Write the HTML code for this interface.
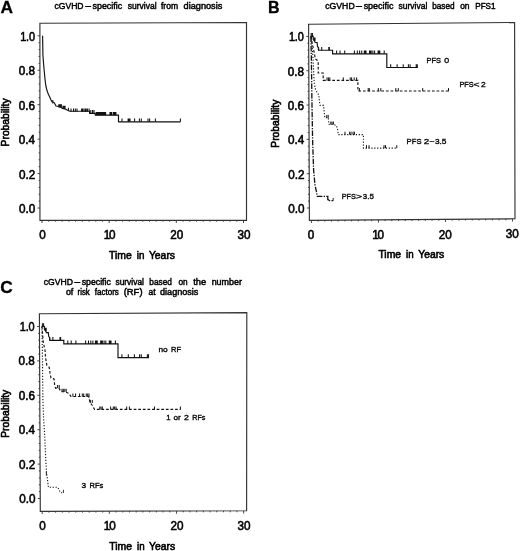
<!DOCTYPE html>
<html><head><meta charset="utf-8"><title>cGVHD-specific survival</title>
<style>
html,body{margin:0;padding:0;background:#fff;}
body{width:520px;height:551px;overflow:hidden;}
svg{display:block;will-change:transform;filter:grayscale(1);font-family:"Liberation Sans",sans-serif;}
.tk{font-size:13.3px;fill:#000;stroke:#000;stroke-width:0.62px;}
.ax{font-size:10.6px;fill:#000;stroke:#000;stroke-width:0.6px;}
.tt{font-size:9.2px;fill:#000;stroke:#000;stroke-width:0.48px;}
.lb{font-size:7.9px;fill:#0a0a0a;stroke:#0a0a0a;stroke-width:0.36px;}
.let{font-size:15px;font-weight:bold;fill:#000;stroke:#000;stroke-width:0.3px;}
</style></head>
<body>
<svg width="520" height="551" viewBox="0 0 520 551">
<rect width="520" height="551" fill="#fff"/>
<g id="A">
<path d="M39.9 23.2L246.5 22.5L246.5 220.3L39.95 220.3Z" fill="none" stroke="#333" stroke-width="1.15" stroke-linejoin="miter"/>
<path d="M37.55 208.00H39.95M38.65 201.11H39.95M38.64 194.22H39.94M38.64 187.34H39.94M38.64 180.45H39.94M37.54 173.56H39.94M38.64 166.67H39.94M38.63 159.78H39.93M38.63 152.90H39.93M38.63 146.01H39.93M37.53 139.12H39.93M38.63 132.23H39.93M38.63 125.34H39.93M38.62 118.46H39.92M38.62 111.57H39.92M37.52 104.68H39.92M38.62 97.79H39.92M38.62 90.90H39.92M38.62 84.02H39.92M38.61 77.13H39.91M37.51 70.24H39.91M38.61 63.35H39.91M38.61 56.46H39.91M38.61 49.58H39.91M38.60 42.69H39.90M37.50 35.80H39.90M42.00 220.30V223.00M48.72 220.30V221.70M55.43 220.30V221.70M62.15 220.30V221.70M68.87 220.30V221.70M75.59 220.30V221.70M82.30 220.30V221.70M89.02 220.30V221.70M95.74 220.30V221.70M102.45 220.30V221.70M109.17 220.30V223.00M115.89 220.30V221.70M122.60 220.30V221.70M129.32 220.30V221.70M136.04 220.30V221.70M142.75 220.30V221.70M149.47 220.30V221.70M156.19 220.30V221.70M162.91 220.30V221.70M169.62 220.30V221.70M176.34 220.30V223.00M183.06 220.30V221.70M189.77 220.30V221.70M196.49 220.30V221.70M203.21 220.30V221.70M209.92 220.30V221.70M216.64 220.30V221.70M223.36 220.30V221.70M230.08 220.30V221.70M236.79 220.30V221.70M243.51 220.30V223.00" stroke="#333" stroke-width="0.9" fill="none"/>
<text transform="translate(35.15 213.00) scale(0.88 1)" text-anchor="end" class="tk">0.0</text>
<text transform="translate(35.14 178.56) scale(0.88 1)" text-anchor="end" class="tk">0.2</text>
<text transform="translate(35.13 144.12) scale(0.88 1)" text-anchor="end" class="tk">0.4</text>
<text transform="translate(35.12 109.68) scale(0.88 1)" text-anchor="end" class="tk">0.6</text>
<text transform="translate(35.11 75.24) scale(0.88 1)" text-anchor="end" class="tk">0.8</text>
<text transform="translate(35.10 40.80) scale(0.82 1)" text-anchor="end" class="tk">1<tspan dx="-0.35">.</tspan><tspan dx="-0.1">0</tspan></text>
<text transform="translate(42.40 239.20) scale(0.88 1)" text-anchor="middle" class="tk">0</text>
<text transform="translate(109.57 239.20) scale(0.88 1)" text-anchor="middle" class="tk">1<tspan dx="-1.4">0</tspan></text>
<text transform="translate(176.74 239.20) scale(0.88 1)" text-anchor="middle" class="tk">20</text>
<text transform="translate(243.91 239.20) scale(0.88 1)" text-anchor="middle" class="tk">30</text>
<text x="109.12" y="259.00" class="ax" textLength="22.70" lengthAdjust="spacingAndGlyphs">Time</text>
<text x="136.82" y="259.00" class="ax" textLength="7.60" lengthAdjust="spacingAndGlyphs">in</text>
<text x="148.92" y="259.00" class="ax" textLength="26.10" lengthAdjust="spacingAndGlyphs">Years</text>
<text transform="translate(9.05 146.40) rotate(-90)" class="ax" textLength="48" lengthAdjust="spacingAndGlyphs">Probability</text>
<text x="0.5" y="12.6" class="let" style="font-size:17.3px">A</text>
<text x="54.45" y="8.60" class="tt" textLength="29.10" lengthAdjust="spacingAndGlyphs">cGVHD</text>
<text x="85.45" y="8.60" class="tt" textLength="5.40" lengthAdjust="spacingAndGlyphs">&#8211;</text>
<text x="92.55" y="8.60" class="tt" textLength="29.60" lengthAdjust="spacingAndGlyphs">specific</text>
<text x="127.65" y="8.60" class="tt" textLength="28.90" lengthAdjust="spacingAndGlyphs">survival</text>
<text x="160.95" y="8.60" class="tt" textLength="17.10" lengthAdjust="spacingAndGlyphs">from</text>
<text x="183.55" y="8.60" class="tt" textLength="38.80" lengthAdjust="spacingAndGlyphs">diagnosis</text>
<path d="M42.6 35.7 L42.9 54.5 L43.5 63 L44.2 70.8 L45 79 L45.8 85.5 L46.6 89 L47.5 92 L48.6 94.8 L49.75 97 L50.8 99.5 L51.9 101.8 L54.3 102.7 L56 106 L60 106.8 L62.5 108.4 L65.75 109.2 L67.5 110.2 L69.8 111.2 H89.6 V113.4 H95.2 V115.1 H118.5 V121.8 H180.4" fill="none" stroke="#111" stroke-width="1.15" stroke-linejoin="round"/>
<path d="M52.80 103.40v-3.3M58.80 107.60v-3.3M59.60 107.60v-3.3M60.60 107.60v-3.3M61.40 107.60v-3.3M63.00 109.00v-3.3M64.00 109.00v-3.3M65.00 109.00v-3.3M68.40 111.00v-3.3M71.00 111.80v-3.3M73.50 111.80v-3.3M75.30 111.80v-3.3M77.00 111.80v-3.3M81.60 111.80v-3.3M82.50 111.80v-3.3M83.90 111.80v-3.3M85.30 111.80v-3.3M86.10 111.80v-3.3M87.40 111.80v-3.3M89.10 111.80v-3.3M90.80 113.40v-3.3M92.60 113.40v-3.3M94.00 113.40v-3.3M96.20 115.20v-3.3M96.90 115.20v-3.3M97.60 115.20v-3.3M98.30 115.20v-3.3M99.00 115.20v-3.3M99.70 115.20v-3.3M100.40 115.20v-3.3M101.10 115.20v-3.3M101.80 115.20v-3.3M102.50 115.20v-3.3M103.20 115.20v-3.3M104.00 115.20v-3.3M104.80 115.20v-3.3M105.60 115.20v-3.3M110.00 115.20v-3.3M110.80 115.20v-3.3M111.60 115.20v-3.3M113.30 115.20v-3.3M114.20 115.20v-3.3M115.00 115.20v-3.3M115.90 115.20v-3.3M122.00 121.80v-3.3M128.10 121.80v-3.3M128.90 121.80v-3.3M130.00 121.80v-3.3M134.60 121.80v-3.3M139.40 121.80v-3.3M141.30 121.80v-3.3M148.00 121.80v-3.3M149.60 121.80v-3.3M155.40 121.80v-3.3M180.40 121.80v-3.3" fill="none" stroke="#111" stroke-width="1.05"/>
</g>
<g id="B">
<path d="M308.6 24.2L514.6 22.5L515.0 218.8L309.4 220.3Z" fill="none" stroke="#333" stroke-width="1.15" stroke-linejoin="miter"/>
<path d="M306.95 208.00H309.35M308.02 201.14H309.32M307.99 194.27H309.29M307.97 187.41H309.27M307.94 180.54H309.24M306.81 173.68H309.21M307.88 166.82H309.18M307.85 159.95H309.15M307.83 153.09H309.13M307.80 146.22H309.10M306.67 139.36H309.07M307.74 132.50H309.04M307.71 125.63H309.01M307.69 118.77H308.99M307.66 111.90H308.96M306.53 105.04H308.93M307.60 98.18H308.90M307.57 91.31H308.87M307.55 84.45H308.85M307.52 77.58H308.82M306.39 70.72H308.79M307.46 63.86H308.76M307.43 56.99H308.73M307.41 50.13H308.71M307.38 43.26H308.68M306.25 36.40H308.65M311.40 220.29V222.99M318.10 220.24V221.64M324.81 220.19V221.59M331.51 220.14V221.54M338.21 220.09V221.49M344.91 220.04V221.44M351.62 219.99V221.39M358.32 219.94V221.34M365.02 219.89V221.29M371.73 219.85V221.25M378.43 219.80V222.50M385.13 219.75V221.15M391.84 219.70V221.10M398.54 219.65V221.05M405.24 219.60V221.00M411.94 219.55V220.95M418.65 219.50V220.90M425.35 219.45V220.85M432.05 219.41V220.81M438.76 219.36V220.76M445.46 219.31V222.01M452.16 219.26V220.66M458.87 219.21V220.61M465.57 219.16V220.56M472.27 219.11V220.51M478.98 219.06V220.46M485.68 219.01V220.41M492.38 218.97V220.37M499.08 218.92V220.32M505.79 218.87V220.27M512.49 218.82V221.52" stroke="#333" stroke-width="0.9" fill="none"/>
<text transform="translate(304.55 213.00) scale(0.88 1)" text-anchor="end" class="tk">0.0</text>
<text transform="translate(304.41 178.68) scale(0.88 1)" text-anchor="end" class="tk">0.2</text>
<text transform="translate(304.27 144.36) scale(0.88 1)" text-anchor="end" class="tk">0.4</text>
<text transform="translate(304.13 110.04) scale(0.88 1)" text-anchor="end" class="tk">0.6</text>
<text transform="translate(303.99 75.72) scale(0.88 1)" text-anchor="end" class="tk">0.8</text>
<text transform="translate(303.85 41.40) scale(0.82 1)" text-anchor="end" class="tk">1<tspan dx="-0.35">.</tspan><tspan dx="-0.1">0</tspan></text>
<text transform="translate(311.10 239.19) scale(0.88 1)" text-anchor="middle" class="tk">0</text>
<text transform="translate(378.13 238.95) scale(0.88 1)" text-anchor="middle" class="tk">1<tspan dx="-1.4">0</tspan></text>
<text transform="translate(445.16 238.70) scale(0.88 1)" text-anchor="middle" class="tk">20</text>
<text transform="translate(512.19 238.46) scale(0.88 1)" text-anchor="middle" class="tk">30</text>
<text x="378.38" y="258.40" class="ax" textLength="22.70" lengthAdjust="spacingAndGlyphs">Time</text>
<text x="406.08" y="258.40" class="ax" textLength="7.60" lengthAdjust="spacingAndGlyphs">in</text>
<text x="418.18" y="258.40" class="ax" textLength="26.10" lengthAdjust="spacingAndGlyphs">Years</text>
<text transform="translate(278.50 147.70) rotate(-90)" class="ax" textLength="48" lengthAdjust="spacingAndGlyphs">Probability</text>
<text x="267.9" y="13.1" class="let" style="font-size:16px">B</text>
<text x="325.25" y="8.70" class="tt" textLength="29.40" lengthAdjust="spacingAndGlyphs">cGVHD</text>
<text x="356.05" y="8.70" class="tt" textLength="5.90" lengthAdjust="spacingAndGlyphs">&#8211;</text>
<text x="363.65" y="8.70" class="tt" textLength="29.80" lengthAdjust="spacingAndGlyphs">specific</text>
<text x="398.55" y="8.70" class="tt" textLength="28.80" lengthAdjust="spacingAndGlyphs">survival</text>
<text x="432.15" y="8.70" class="tt" textLength="22.50" lengthAdjust="spacingAndGlyphs">based</text>
<text x="460.15" y="8.70" class="tt" textLength="9.40" lengthAdjust="spacingAndGlyphs">on</text>
<text x="475.25" y="8.70" class="tt" textLength="20.30" lengthAdjust="spacingAndGlyphs">PFS1</text>
<path d="M310.70 36.40 L313.20 36.40 L313.20 39.30 L314.10 40.30 L315.20 42.50 L317.10 42.50 L317.50 46.30 L318.60 47.90 L318.60 50.20 L332.60 50.20 L332.60 53.80 L386.80 53.80 L386.80 67.50 L417.90 67.50" fill="none" stroke="#111" stroke-width="1.15"/><path d="M311.20 36.40v-3.3M312.40 36.40v-3.3M314.00 40.90v-3.3M315.00 40.90v-3.3M318.40 50.20v-3.3M321.70 50.20v-3.3M328.80 50.20v-3.3M329.40 50.20v-3.3M336.60 53.80v-3.3M340.00 53.80v-3.3M344.70 53.80v-3.3M354.40 53.80v-3.3M357.30 53.80v-3.3M359.60 53.80v-3.3M361.70 53.80v-3.3M364.30 53.80v-3.3M365.10 53.80v-3.3M366.00 53.80v-3.3M369.50 53.80v-3.3M370.30 53.80v-3.3M371.20 53.80v-3.3M372.90 53.80v-3.3M374.60 53.80v-3.3M378.10 53.80v-3.3M378.90 53.80v-3.3M379.80 53.80v-3.3M384.20 53.80v-3.3M390.70 67.50v-3.3M397.10 67.50v-3.3M403.20 67.50v-3.3M408.40 67.50v-3.3M410.10 67.50v-3.3M416.20 67.50v-3.3M417.30 67.50v-3.3" fill="none" stroke="#111" stroke-width="1.05"/>
<path d="M311 36.5 L312.7 45.7 L314.6 54.2 L315.2 58.8 L318.2 61 V73 H323.2 V80.3 H357.9 V91 H448.8" fill="none" stroke="#111" stroke-width="1.15" stroke-dasharray="2.7 1.9"/>
<path d="M327.00 80.50v-3.1M328.40 80.50v-3.1M329.80 80.50v-3.1M343.30 80.50v-3.1M350.20 80.50v-3.1M351.60 80.50v-3.1M354.20 80.50v-3.1M356.60 80.50v-3.1M359.40 91.20v-3.1M368.20 91.20v-3.1M369.30 91.20v-3.1M378.30 91.20v-3.1M380.80 91.20v-3.1M395.80 91.20v-3.1M398.30 91.20v-3.1M422.70 91.20v-3.1M448.50 91.20v-3.1" fill="none" stroke="#111" stroke-width="1.0"/>
<path d="M311 36.5 L312.6 52 L313.5 67.7 L313.8 75.4 L314.2 83 L315.4 89 L316.7 91.7 L318.8 95.1 L319.4 101.2 L320.1 105.4 H323.5 L324.2 111.9 L324.8 117.7 H328.2 L328.9 124.3 H332.9 L336.3 125.4 L337.6 129.4 L338.3 134.6 H363.4 V148.1 H397" fill="none" stroke="#111" stroke-width="1.1" stroke-dasharray="1.2 1.7"/>
<path d="M326.80 117.90v-3.0M328.20 117.90v-3.0M330.80 124.60v-3.0M332.00 124.60v-3.0M333.40 124.60v-3.0M345.00 134.70v-3.0M349.60 134.70v-3.0M351.00 134.70v-3.0M353.00 134.70v-3.0M354.40 134.70v-3.0M366.50 148.20v-3.0M369.00 148.20v-3.0M384.00 148.20v-3.0M385.50 148.20v-3.0M396.80 148.20v-3.0" fill="none" stroke="#111" stroke-width="1.0"/>
<path d="M310.9 36.5 L311.4 60 L311.9 100 L312.6 140 L313.6 170 L315.0 185 L316.3 191 L317.3 196.4 H327.8 V200.6 H333.2" fill="none" stroke="#111" stroke-width="1.3" stroke-dasharray="5.5 1.3 1.3 1.3"/>
<path d="M333.2 200.6v-2.6M328.6 200.6v-1.6" fill="none" stroke="#111" stroke-width="0.9"/>
<text x="426.60" y="62.70" class="lb" textLength="14.40" lengthAdjust="spacingAndGlyphs">PFS</text>
<text x="444.30" y="62.70" class="lb" textLength="4.90" lengthAdjust="spacingAndGlyphs">0</text>
<text x="459.40" y="86.80" class="lb" textLength="14.20" lengthAdjust="spacingAndGlyphs">PFS</text>
<text x="473.60" y="86.80" class="lb" textLength="6.00" lengthAdjust="spacingAndGlyphs">&lt;</text>
<text x="481.00" y="86.80" class="lb" textLength="4.70" lengthAdjust="spacingAndGlyphs">2</text>
<text x="406.60" y="143.60" class="lb" textLength="14.90" lengthAdjust="spacingAndGlyphs">PFS</text>
<text x="423.70" y="143.60" class="lb" textLength="5.50" lengthAdjust="spacingAndGlyphs">2</text>
<text x="429.60" y="143.60" class="lb" textLength="5.20" lengthAdjust="spacingAndGlyphs">&#8722;</text>
<text x="434.90" y="143.60" class="lb" textLength="11.50" lengthAdjust="spacingAndGlyphs">3.5</text>
<text x="341.70" y="198.60" class="lb" textLength="14.30" lengthAdjust="spacingAndGlyphs">PFS</text>
<text x="355.90" y="198.60" class="lb" textLength="6.00" lengthAdjust="spacingAndGlyphs">&gt;</text>
<text x="362.80" y="198.60" class="lb" textLength="11.00" lengthAdjust="spacingAndGlyphs">3.5</text>
</g>
<g id="C">
<path d="M39.4 313.8L246.8 312.6L246.6 510.8L40.3 511.3Z" fill="none" stroke="#333" stroke-width="1.15" stroke-linejoin="miter"/>
<path d="M37.84 498.50H40.24M38.91 491.62H40.21M38.88 484.74H40.18M38.85 477.86H40.15M38.82 470.98H40.12M37.68 464.10H40.08M38.75 457.22H40.05M38.72 450.34H40.02M38.69 443.46H39.99M38.66 436.58H39.96M37.53 429.70H39.93M38.60 422.82H39.90M38.57 415.94H39.87M38.53 409.06H39.83M38.50 402.18H39.80M37.37 395.30H39.77M38.44 388.42H39.74M38.41 381.54H39.71M38.38 374.66H39.68M38.35 367.78H39.65M37.21 360.90H39.61M38.28 354.02H39.58M38.25 347.14H39.55M38.22 340.26H39.52M38.19 333.38H39.49M37.06 326.50H39.46M42.20 511.30V514.00M48.92 511.28V512.68M55.63 511.26V512.66M62.34 511.25V512.65M69.06 511.23V512.63M75.78 511.21V512.61M82.49 511.20V512.60M89.20 511.18V512.58M95.92 511.17V512.57M102.64 511.15V512.55M109.35 511.13V513.83M116.06 511.12V512.52M122.78 511.10V512.50M129.50 511.08V512.48M136.21 511.07V512.47M142.93 511.05V512.45M149.64 511.03V512.43M156.36 511.02V512.42M163.07 511.00V512.40M169.78 510.99V512.39M176.50 510.97V513.67M183.21 510.95V512.35M189.93 510.94V512.34M196.64 510.92V512.32M203.36 510.90V512.30M210.07 510.89V512.29M216.79 510.87V512.27M223.50 510.86V512.26M230.22 510.84V512.24M236.94 510.82V512.22M243.65 510.81V513.51" stroke="#333" stroke-width="0.9" fill="none"/>
<text transform="translate(35.44 502.90) scale(0.88 1)" text-anchor="end" class="tk">0.0</text>
<text transform="translate(35.28 468.50) scale(0.88 1)" text-anchor="end" class="tk">0.2</text>
<text transform="translate(35.13 434.10) scale(0.88 1)" text-anchor="end" class="tk">0.4</text>
<text transform="translate(34.97 399.70) scale(0.88 1)" text-anchor="end" class="tk">0.6</text>
<text transform="translate(34.81 365.30) scale(0.88 1)" text-anchor="end" class="tk">0.8</text>
<text transform="translate(34.66 330.90) scale(0.82 1)" text-anchor="end" class="tk">1<tspan dx="-0.35">.</tspan><tspan dx="-0.1">0</tspan></text>
<text transform="translate(42.60 530.20) scale(0.88 1)" text-anchor="middle" class="tk">0</text>
<text transform="translate(109.75 530.12) scale(0.88 1)" text-anchor="middle" class="tk">1<tspan dx="-1.4">0</tspan></text>
<text transform="translate(176.90 530.03) scale(0.88 1)" text-anchor="middle" class="tk">20</text>
<text transform="translate(244.05 529.95) scale(0.88 1)" text-anchor="middle" class="tk">30</text>
<text x="109.30" y="549.60" class="ax" textLength="22.70" lengthAdjust="spacingAndGlyphs">Time</text>
<text x="137.00" y="549.60" class="ax" textLength="7.60" lengthAdjust="spacingAndGlyphs">in</text>
<text x="149.10" y="549.60" class="ax" textLength="26.10" lengthAdjust="spacingAndGlyphs">Years</text>
<text transform="translate(9.40 437.80) rotate(-90)" class="ax" textLength="48" lengthAdjust="spacingAndGlyphs">Probability</text>
<text x="0.3" y="293.1" class="let" style="font-size:17.3px">C</text>
<text x="43.75" y="285.00" class="tt" textLength="29.20" lengthAdjust="spacingAndGlyphs">cGVHD</text>
<text x="74.45" y="285.00" class="tt" textLength="5.60" lengthAdjust="spacingAndGlyphs">&#8211;</text>
<text x="81.65" y="285.00" class="tt" textLength="29.20" lengthAdjust="spacingAndGlyphs">specific</text>
<text x="115.45" y="285.00" class="tt" textLength="28.50" lengthAdjust="spacingAndGlyphs">survival</text>
<text x="149.35" y="285.00" class="tt" textLength="22.60" lengthAdjust="spacingAndGlyphs">based</text>
<text x="178.45" y="285.00" class="tt" textLength="9.20" lengthAdjust="spacingAndGlyphs">on</text>
<text x="193.25" y="285.00" class="tt" textLength="12.90" lengthAdjust="spacingAndGlyphs">the</text>
<text x="211.65" y="285.00" class="tt" textLength="30.30" lengthAdjust="spacingAndGlyphs">number</text>
<text x="65.95" y="294.60" class="tt" textLength="7.40" lengthAdjust="spacingAndGlyphs">of</text>
<text x="77.55" y="294.60" class="tt" textLength="12.20" lengthAdjust="spacingAndGlyphs">risk</text>
<text x="94.85" y="294.60" class="tt" textLength="24.00" lengthAdjust="spacingAndGlyphs">factors</text>
<text x="123.65" y="294.60" class="tt" textLength="18.90" lengthAdjust="spacingAndGlyphs">(RF)</text>
<text x="148.45" y="294.60" class="tt" textLength="7.10" lengthAdjust="spacingAndGlyphs">at</text>
<text x="160.05" y="294.60" class="tt" textLength="38.30" lengthAdjust="spacingAndGlyphs">diagnosis</text>
<path d="M41.90 326.50 L44.40 326.50 L44.40 329.40 L45.30 330.40 L46.40 332.60 L48.30 332.60 L48.70 336.40 L49.80 338.00 L49.80 340.30 L63.80 340.30 L63.80 343.90 L118.00 343.90 L118.00 357.60 L149.10 357.60" fill="none" stroke="#111" stroke-width="1.15"/><path d="M42.40 326.50v-3.3M43.60 326.50v-3.3M45.20 331.00v-3.3M46.20 331.00v-3.3M49.60 340.30v-3.3M52.90 340.30v-3.3M60.00 340.30v-3.3M60.60 340.30v-3.3M67.80 343.90v-3.3M71.20 343.90v-3.3M75.90 343.90v-3.3M85.60 343.90v-3.3M88.50 343.90v-3.3M90.80 343.90v-3.3M92.90 343.90v-3.3M95.50 343.90v-3.3M96.30 343.90v-3.3M97.20 343.90v-3.3M100.70 343.90v-3.3M101.50 343.90v-3.3M102.40 343.90v-3.3M104.10 343.90v-3.3M105.80 343.90v-3.3M109.30 343.90v-3.3M110.10 343.90v-3.3M111.00 343.90v-3.3M115.40 343.90v-3.3M121.90 357.60v-3.3M128.30 357.60v-3.3M134.40 357.60v-3.3M139.60 357.60v-3.3M141.30 357.60v-3.3M147.40 357.60v-3.3M148.50 357.60v-3.3" fill="none" stroke="#111" stroke-width="1.05"/>
<path d="M41.9 326.5 L42.6 334 L43.2 342 L44.1 346 L45.1 351 L45.5 357.3 L46.9 365.4 L49.2 367.2 L50.1 373.6 L51 378.1 L54.1 379 L54.6 384.5 L55.5 388.1 H58.7 L61.4 391.7 H65 L69.1 393.6 L70.9 396.5 H88.8 L90 402.5 L92 405 L94.5 409.4 H180.5" fill="none" stroke="#111" stroke-width="1.15" stroke-dasharray="2.7 1.9"/>
<path d="M57.60 388.10v-3.1M59.20 388.10v-3.1M62.00 391.90v-3.1M63.30 391.90v-3.1M64.80 391.90v-3.1M66.20 391.90v-3.1M72.90 396.60v-3.1M75.60 396.60v-3.1M79.60 396.60v-3.1M82.30 396.60v-3.1M83.70 396.60v-3.1M86.30 396.60v-3.1M87.70 396.60v-3.1M89.00 396.60v-3.1M90.30 403.00v-3.1M92.30 403.00v-3.1M99.80 409.60v-3.1M101.00 409.60v-3.1M102.30 409.60v-3.1M110.60 409.60v-3.1M113.30 409.60v-3.1M114.60 409.60v-3.1M116.00 409.60v-3.1M126.70 409.60v-3.1M129.40 409.60v-3.1M154.50 409.60v-3.1M180.40 409.60v-3.1" fill="none" stroke="#111" stroke-width="1.0"/>
<path d="M41.9 326.5 L42.4 350 L42.9 400 L43.6 418 L44.7 436 L45.5 454.5 L46.5 472.7 L47.3 478 L48.4 487.3 H57.8 L60.5 492.7 H63.4" fill="none" stroke="#111" stroke-width="1.1" stroke-dasharray="1.2 1.7"/>
<path d="M63.4 492.9v-3M46.4 475.5v-4" fill="none" stroke="#111" stroke-width="0.9"/>
<text x="158.40" y="351.70" class="lb" textLength="9.30" lengthAdjust="spacingAndGlyphs">no</text>
<text x="171.00" y="351.70" class="lb" textLength="10.00" lengthAdjust="spacingAndGlyphs">RF</text>
<text x="166.30" y="419.80" class="lb" textLength="4.30" lengthAdjust="spacingAndGlyphs">1</text>
<text x="173.50" y="419.80" class="lb" textLength="7.30" lengthAdjust="spacingAndGlyphs">or</text>
<text x="183.90" y="419.80" class="lb" textLength="4.90" lengthAdjust="spacingAndGlyphs">2</text>
<text x="192.30" y="419.80" class="lb" textLength="13.10" lengthAdjust="spacingAndGlyphs">RFs</text>
<text x="81.50" y="488.00" class="lb" textLength="4.60" lengthAdjust="spacingAndGlyphs">3</text>
<text x="89.50" y="488.00" class="lb" textLength="13.90" lengthAdjust="spacingAndGlyphs">RFs</text>
</g>
</svg>
</body></html>
